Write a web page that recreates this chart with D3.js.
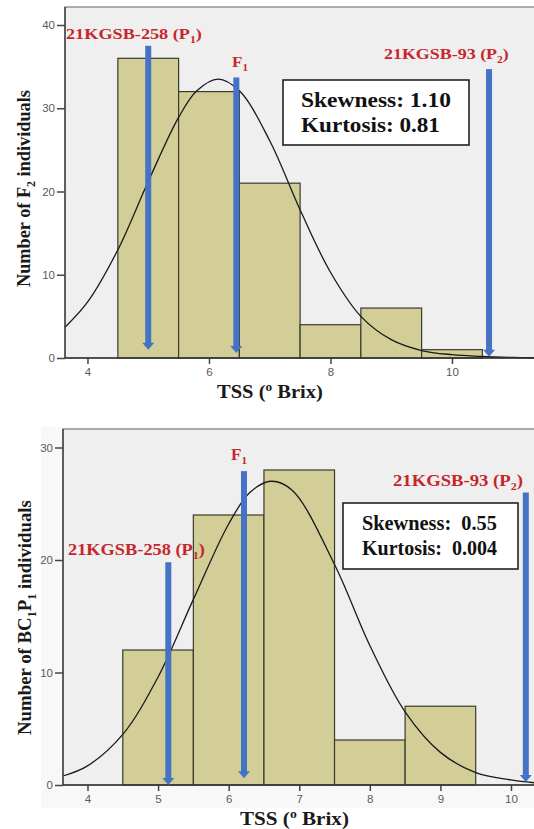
<!DOCTYPE html>
<html>
<head>
<meta charset="utf-8">
<script src="https://cdn.jsdelivr.net/npm/d3@7"></script>
<style>
  body { margin: 0; background: #fff; }
  text { font-family: "Liberation Serif", "Times New Roman", serif; }
  .tick text { font-family: "Liberation Sans", Arial, sans-serif; }
</style>
</head>
<body>
<div id="chart"></div>
<script>
// ---- F2 population (top) ----
const f2BinStart = [4.5, 5.5, 6.5, 7.5, 8.5, 9.5];
const f2Counts = [36, 32, 21, 4, 6, 1];
const f2CurveX = [3.63, 4.0, 4.5, 5.0, 5.5, 5.8, 6.15, 6.5, 7.0, 7.5, 8.0, 8.5, 9.0, 9.5, 10.0, 10.5, 11.0, 11.35];
const f2CurveY = [3.7, 6.7, 13.0, 21.2, 28.9, 32.1, 33.5, 32.1, 26.1, 17.8, 10.3, 5.0, 2.2, 0.9, 0.4, 0.18, 0.07, 0.03];
const f2ArrowX = [5.0, 6.45, 10.61];
const f2ArrowTop = [37.5, 33.7, 34.7];
const f2ArrowTip = [1.0, 0.6, 0.15];
const f2XTicks = [4, 6, 8, 10];
const f2YTicks = [0, 10, 20, 30, 40];
const f2Stats = ["Skewness: 1.10", "Kurtosis: 0.81"];
const f2YTitle = ["Number of F", "2", " individuals"];

// ---- BC1P1 population (bottom) ----
const bcBinStart = [4.5, 5.5, 6.5, 7.5, 8.5];
const bcCounts = [12, 24, 28, 4, 7];
const bcCurveX = [3.653, 4.0, 4.5, 5.0, 5.5, 6.0, 6.3, 6.6, 6.9, 7.5, 8.0, 8.5, 9.0, 9.5, 10.0, 10.326];
const bcCurveY = [0.8, 1.7, 4.5, 9.6, 16.5, 23.2, 26.0, 27.0, 26.2, 19.6, 12.4, 6.5, 2.9, 1.1, 0.45, 0.2];
const bcArrowX = [5.145, 6.217, 10.21];
const bcArrowTop = [19.8, 27.9, 26.0];
const bcArrowTip = [0, 0.6, 0.27];
const bcXTicks = [4, 5, 6, 7, 8, 9, 10];
const bcYTicks = [0, 10, 20, 30];
const bcStats = ["Skewness:  0.55", "Kurtosis:  0.004"];
const bcYTitle = ["Number of BC", "1", "P", "1", " individuals"];

// shared
const parentLabels = [["21KGSB-258 (P", "1", ")"], ["F", "1"], ["21KGSB-93 (P", "2", ")"]];
const xTitle = ["TSS (", "o", " Brix)"];
const binWidth = 1;

const W = 534, H = 829;
const svg = d3.select("#chart").append("svg").attr("width", W).attr("height", H);

// faint chart-area tint of the lower figure
svg.append("rect").attr("x", 41).attr("y", 427).attr("width", W - 41).attr("height", 381).attr("fill", "#f8f8f8");

// text made of alternating normal / sub(super)script pieces
function richText(t, parts, size, sup) {
  const shift = sup ? -size * 0.38 : size * 0.28;
  parts.forEach((p, i) => {
    const small = i % 2 === 1;
    t.append("tspan")
      .text(p)
      .attr("font-size", small ? size * 0.65 : size)
      .attr("dy", i === 0 ? 0 : (small ? shift : -shift));
  });
  return t;
}

// stretch a text horizontally to the width it has in the picture
function fit(t, x, y, width, rotate) {
  const w = t.node().getBBox().width;
  t.attr("transform", `translate(${x},${y})` + (rotate ? " rotate(-90)" : "") + ` scale(${width / w},1)`);
}

function drawPanel(p) {
  const g = svg.append("g");
  const x = d3.scaleLinear().domain(p.xDomain).range([p.left, W]);
  const y = d3.scaleLinear().domain(p.yDomain).range(p.yRange);
  const y0 = y(0);

  // plot background
  g.append("rect")
    .attr("x", p.left).attr("y", p.top)
    .attr("width", W + 10 - p.left).attr("height", y0 - p.top)
    .attr("fill", "#efefef").attr("stroke", "#7a7a7a").attr("stroke-width", 1.2);

  // histogram bars
  g.append("g").selectAll("rect")
    .data(p.counts)
    .join("rect")
    .attr("x", (d, i) => x(p.bins[i]))
    .attr("y", d => y(d))
    .attr("width", (d, i) => x(p.bins[i] + binWidth) - x(p.bins[i]))
    .attr("height", d => y0 - y(d))
    .attr("fill", "#d3ce97")
    .attr("stroke", "#3b3a2c")
    .attr("stroke-width", 1.2);

  // normal curve
  g.append("path")
    .datum(p.curveX.map((v, i) => [v, p.curveY[i]]))
    .attr("fill", "none")
    .attr("stroke", "#1a1a1a")
    .attr("stroke-width", 1.3)
    .attr("d", d3.line().x(d => x(d[0])).y(d => y(d[1])).curve(d3.curveCatmullRom));

  // axes
  const ay = g.append("g")
    .attr("transform", `translate(${p.left},0)`)
    .call(d3.axisLeft(y).tickValues(p.yTicks).tickSize(8).tickPadding(2));
  const ax = g.append("g")
    .attr("transform", `translate(0,${y0})`)
    .call(d3.axisBottom(x).tickValues(p.xTicks).tickSize(6).tickPadding(4).tickFormat(d3.format("d")));
  [ax, ay].forEach(a => {
    a.select(".domain").remove();
    a.selectAll(".tick line").attr("stroke", "#444").attr("stroke-width", 1.5);
    a.selectAll(".tick text").attr("fill", "#5a5a5a").attr("font-size", 11.5);
  });
  g.append("line").attr("x1", p.left).attr("x2", p.left).attr("y1", p.top).attr("y2", y0)
    .attr("stroke", "#444").attr("stroke-width", 1.5);
  g.append("line").attr("x1", p.left).attr("x2", W).attr("y1", y0).attr("y2", y0)
    .attr("stroke", "#333").attr("stroke-width", 1.5);

  // parent / F1 arrows
  p.arrowX.forEach((v, i) => {
    const cx = x(v), yt = y(p.arrowTop[i]), yp = y(p.arrowTip[i]);
    g.append("rect").attr("x", cx - 3).attr("y", yt).attr("width", 6).attr("height", yp - 6 - yt)
      .attr("fill", "#4472c4");
    g.append("path").attr("d", `M${cx - 6},${yp - 7}L${cx + 6},${yp - 7}L${cx},${yp}Z`)
      .attr("fill", "#4472c4");
  });

  // arrow labels
  parentLabels.forEach((parts, i) => {
    const L = p.labels[i];
    const t = g.append("text").attr("font-weight", "bold").attr("fill", "#c6262c");
    richText(t, parts, L.size, false);
    fit(t, L.x, L.y, L.w);
  });

  // skewness / kurtosis box
  g.append("rect")
    .attr("x", p.box.x).attr("y", p.box.y).attr("width", p.box.w).attr("height", p.box.h)
    .attr("fill", "#fff").attr("stroke", "#222").attr("stroke-width", 1.6);
  p.stats.forEach((s, i) => {
    const t = g.append("text").attr("font-weight", "bold").attr("font-size", 20)
      .attr("fill", "#111").style("white-space", "pre").text(s);
    fit(t, p.box.tx, p.box.ty[i], p.box.tw[i]);
  });

  // axis titles
  const xt = g.append("text").attr("font-weight", "bold").attr("fill", "#1a1a1a");
  richText(xt, xTitle, 18.5, true);
  fit(xt, p.xTitlePos.x, p.xTitlePos.y, p.xTitlePos.w);

  const yt = g.append("text").attr("font-weight", "bold").attr("fill", "#1a1a1a");
  richText(yt, p.yTitle, 19, false);
  fit(yt, p.yTitlePos.x, p.yTitlePos.y, p.yTitlePos.w, true);
}

drawPanel({
  bins: f2BinStart, counts: f2Counts, curveX: f2CurveX, curveY: f2CurveY,
  arrowX: f2ArrowX, arrowTop: f2ArrowTop, arrowTip: f2ArrowTip,
  xTicks: f2XTicks, yTicks: f2YTicks, stats: f2Stats, yTitle: f2YTitle,
  xDomain: [3.63, 11.35], yDomain: [0, 40], yRange: [358, 25], left: 65, top: 7,
  labels: [
    { x: 66, y: 39, w: 136, size: 15.5 },
    { x: 232, y: 67, w: 16, size: 15.5 },
    { x: 384, y: 59, w: 125, size: 15.5 }
  ],
  box: { x: 283, y: 80, w: 186, h: 65, tx: 301, ty: [107, 132], tw: [150, 139] },
  xTitlePos: { x: 217, y: 398, w: 106 },
  yTitlePos: { x: 30, y: 287, w: 197 }
});

drawPanel({
  bins: bcBinStart, counts: bcCounts, curveX: bcCurveX, curveY: bcCurveY,
  arrowX: bcArrowX, arrowTop: bcArrowTop, arrowTip: bcArrowTip,
  xTicks: bcXTicks, yTicks: bcYTicks, stats: bcStats, yTitle: bcYTitle,
  xDomain: [3.653, 10.326], yDomain: [0, 30], yRange: [785, 447.5], left: 63, top: 429,
  labels: [
    { x: 68, y: 555, w: 137, size: 16 },
    { x: 231, y: 460, w: 16, size: 16 },
    { x: 393, y: 486, w: 130, size: 16 }
  ],
  box: { x: 343, y: 503, w: 175, h: 66, tx: 362, ty: [530, 555], tw: [135, 135] },
  xTitlePos: { x: 240, y: 825, w: 109 },
  yTitlePos: { x: 31, y: 735, w: 235 }
});
</script>
</body>
</html>
